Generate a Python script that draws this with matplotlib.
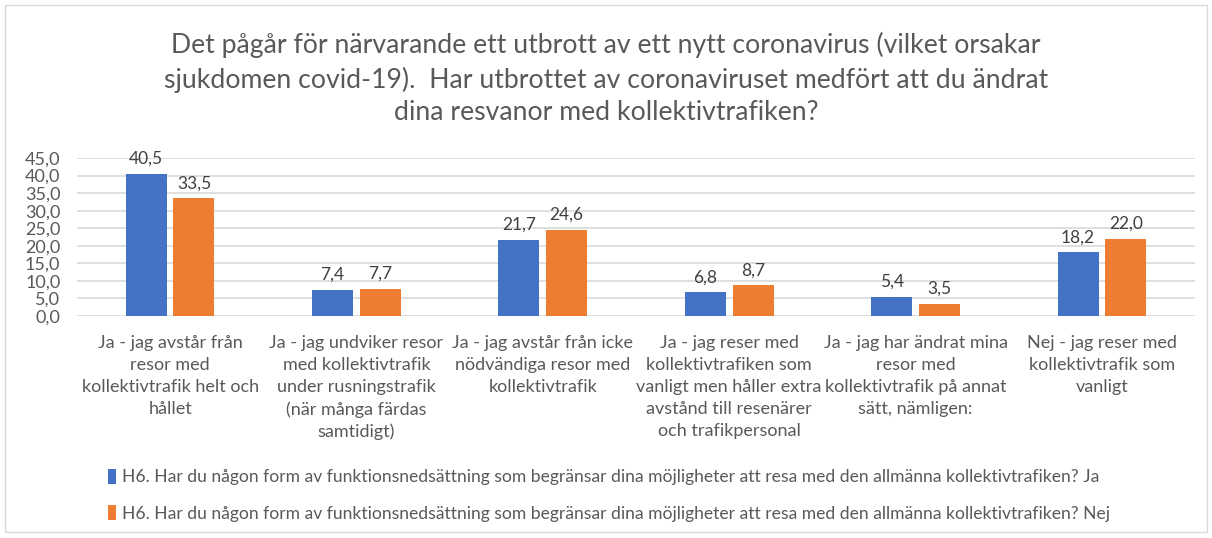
import matplotlib.pyplot as plt
import numpy as np

# Data
kategorier = [
    "Ja - jag avstår från\nresor med\nkollektivtrafik helt och\nhållet",
    "Ja - jag undviker resor\nmed kollektivtrafik\nunder rusningstrafik\n(när många färdas\nsamtidigt)",
    "Ja - jag avstår från icke\nnödvändiga resor med\nkollektivtrafik",
    "Ja - jag reser med\nkollektivtrafiken som\nvanligt men håller extra\navstånd till resenärer\noch trafikpersonal",
    "Ja - jag har ändrat mina\nresor med\nkollektivtrafik på annat\nsätt, nämligen:",
    "Nej - jag reser med\nkollektivtrafik som\nvanligt",
]
varden_ja = [40.5, 7.4, 21.7, 6.8, 5.4, 18.2]
varden_nej = [33.5, 7.7, 24.6, 8.7, 3.5, 22.0]
namn_ja = "H6. Har du någon form av funktionsnedsättning som begränsar dina möjligheter att resa med den allmänna kollektivtrafiken? Ja"
namn_nej = "H6. Har du någon form av funktionsnedsättning som begränsar dina möjligheter att resa med den allmänna kollektivtrafiken? Nej"
titel = ("Det pågår för närvarande ett utbrott av ett nytt coronavirus (vilket orsakar\n"
         "sjukdomen covid-19).  Har utbrottet av coronaviruset medfört att du ändrat\n"
         "dina resvanor med kollektivtrafiken?")
yticks = np.arange(0, 50, 5)

plt.rcParams['font.family'] = ['Lato', 'DejaVu Sans']
textfarg = '#595959'

fig = plt.figure(figsize=(12.12, 5.38), dpi=100)
# ram runt diagrammet
fig.patches.append(plt.Rectangle((0.004, 0.012), 0.992, 0.978, transform=fig.transFigure,
                                 fill=False, edgecolor='#D9D9D9', linewidth=1))

ax = fig.add_axes([0.0635, 0.4126, 0.9225, 0.2937])
x = np.arange(len(kategorier))
b = 0.22
staplar1 = ax.bar(x - b / 2 - 0.018, varden_ja, width=b, color='#4472C4', label=namn_ja, zorder=3)
staplar2 = ax.bar(x + b / 2 + 0.018, varden_nej, width=b, color='#ED7D31', label=namn_nej, zorder=3)

for st in (staplar1, staplar2):
    ax.bar_label(st, labels=[f"{v:.1f}".replace('.', ',') for v in st.datavalues],
                 padding=5, fontsize=12.5, color='#404040')

ax.set_ylim(0, 45)
ax.set_xlim(-0.5, len(kategorier) - 0.5)
ax.set_yticks(yticks)
ax.set_yticklabels([f"{v:.1f}".replace('.', ',') for v in yticks], fontsize=13, color=textfarg)
ax.set_xticks(x)
ax.set_xticklabels(kategorier, fontsize=13, color=textfarg, linespacing=1.45, va='top')
ax.tick_params(axis='both', length=0)
ax.tick_params(axis='x', pad=14)
ax.tick_params(axis='y', pad=12)
ax.grid(axis='y', color='#D9D9D9', linewidth=1.2, zorder=0)
for s in ax.spines.values():
    s.set_visible(False)

fig.text(0.5, 0.94, titel, ha='center', va='top', fontsize=19.2, color=textfarg, linespacing=1.38)

fig.legend(loc='upper left', bbox_to_anchor=(0.083, 0.142), frameon=False, fontsize=12.6,
           labelcolor=textfarg, handlelength=0.5, handleheight=1.0, handletextpad=0.3,
           labelspacing=1.1, borderaxespad=0)

fig.savefig('out.png', dpi=100)
